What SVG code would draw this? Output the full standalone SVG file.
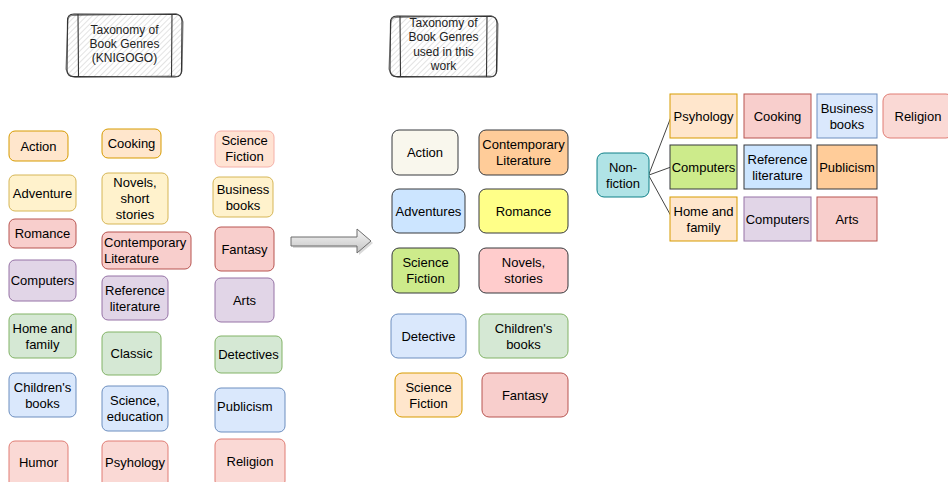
<svg xmlns="http://www.w3.org/2000/svg" width="948" height="482" viewBox="0 0 948 482">
<defs>
<pattern id="hatch" patternUnits="userSpaceOnUse" width="4" height="4" patternTransform="rotate(45)">
<line x1="0" y1="0" x2="0" y2="4" stroke="#c8c8c8" stroke-width="1"/>
</pattern>
<linearGradient id="ag" x1="0" y1="0" x2="0" y2="1">
<stop offset="0" stop-color="#f6f6f6"/>
<stop offset="1" stop-color="#c4c4c4"/>
</linearGradient>
</defs>
<style>
rect{stroke-width:1}
text{font-family:"Liberation Sans",Arial,Helvetica,sans-serif;font-size:13px;fill:#000;text-anchor:middle}
.t{font-size:12px;fill:#222}
.or{fill:#ffe6cc;stroke:#d79b00}
.ye{fill:#fff2cc;stroke:#d6b656}
.re{fill:#f8cecc;stroke:#b85450}
.pu{fill:#e1d5e7;stroke:#9673a6}
.gr{fill:#d5e8d4;stroke:#82b366}
.bl{fill:#dae8fc;stroke:#6c8ebf}
.pk{fill:#fad9d5;stroke:#e07d74}
.sf{fill:#ffe3d3;stroke:#f5b0a8}
.d{stroke:#36393d}
.sk{fill:none;stroke:#333;stroke-width:1.1}
.edge{fill:none;stroke:#444;stroke-width:1}
</style>

<g id="title-knigogo">
<rect x="67" y="14" width="115" height="63" rx="7" fill="url(#hatch)"/>
<path class="sk" d="M74,14 L175,14.5 Q182,14 182,21 L181.5,70 Q182,77 175,77 L74,76.5 Q67,77 67,70 L67.5,21 Q67,14 74,14 Z"/>
<path class="sk" d="M73,15.5 L176,13.5 Q181,15 183,22 L182,71 Q180,78 174,76 L75,77.5 Q68,76 66,69 L68,20 Q69,15 73,15.5 Z" stroke-opacity="0.6"/>
<path class="sk" d="M78,14 L78.5,77 M172,14 L171.5,77"/>
<text class="t" x="124.5" y="34">Taxonomy of</text>
<text class="t" x="124.5" y="48">Book Genres</text>
<text class="t" x="124.5" y="62">(KNIGOGO)</text>
</g>

<g id="title-used">
<rect x="390" y="16" width="107" height="61" rx="7" fill="url(#hatch)"/>
<path class="sk" d="M397,16 L490,16.5 Q497,16 497,23 L496.5,70 Q497,77 490,77 L397,76.5 Q390,77 390,70 L390.5,23 Q390,16 397,16 Z"/>
<path class="sk" d="M396,17.5 L491,15.5 Q496,17 498,24 L497,71 Q495,78 489,76 L398,77.5 Q391,76 389,69 L391,22 Q392,17 396,17.5 Z" stroke-opacity="0.6"/>
<path class="sk" d="M400,16 L400.5,77 M487,16 L486.5,77"/>
<text class="t" x="443.5" y="27">Taxonomy of</text>
<text class="t" x="443.5" y="41.3">Book Genres</text>
<text class="t" x="443.5" y="55.6">used in this</text>
<text class="t" x="443.5" y="70">work</text>
</g>

<!-- Left column 1 -->
<g id="k-action"><rect class="or" x="9" y="131" width="59" height="30" rx="6"/><text x="38.5" y="150.5">Action</text></g>
<g id="k-adventure"><rect class="ye" x="9" y="175" width="67" height="36" rx="6"/><text x="42.5" y="197.5">Adventure</text></g>
<g id="k-romance"><rect class="re" x="9" y="219" width="67" height="29" rx="6"/><text x="42.5" y="238">Romance</text></g>
<g id="k-computers"><rect class="pu" x="9" y="260" width="67" height="41" rx="6"/><text x="42.5" y="285">Computers</text></g>
<g id="k-home"><rect class="gr" x="9" y="314" width="67" height="44" rx="6"/><text x="42.5" y="332.5">Home and</text><text x="42.5" y="348.5">family</text></g>
<g id="k-children"><rect class="bl" x="9" y="373" width="67" height="44" rx="6"/><text x="42.5" y="391.5">Children's</text><text x="42.5" y="407.5">books</text></g>
<g id="k-humor"><rect class="pk" x="9" y="441" width="59" height="48" rx="6"/><text x="38.5" y="466.5">Humor</text></g>

<!-- Left column 2 -->
<g id="k-cooking"><rect class="or" x="102" y="129" width="59" height="29" rx="6"/><text x="131.5" y="148">Cooking</text></g>
<g id="k-novels"><rect class="ye" x="102" y="173" width="66" height="51" rx="6"/><text x="135" y="187">Novels,</text><text x="135" y="203">short</text><text x="135" y="219">stories</text></g>
<g id="k-contemporary"><rect class="re" x="102" y="232" width="89" height="37" rx="6"/><text x="104" y="247" style="text-anchor:start">Contemporary</text><text x="104" y="263" style="text-anchor:start">Literature</text></g>
<g id="k-reference"><rect class="pu" x="102" y="276" width="66" height="44" rx="6"/><text x="135" y="294.5">Reference</text><text x="135" y="310.5">literature</text></g>
<g id="k-classic"><rect class="gr" x="102" y="332" width="59" height="43" rx="6"/><text x="131.5" y="358">Classic</text></g>
<g id="k-science-edu"><rect class="bl" x="102" y="386" width="66" height="45" rx="6"/><text x="135" y="405">Science,</text><text x="135" y="421">education</text></g>
<g id="k-psyhology"><rect class="pk" x="102" y="441" width="66" height="48" rx="6"/><text x="135" y="466.5">Psyhology</text></g>

<!-- Left column 3 -->
<g id="k-scifi"><rect class="sf" x="215" y="131" width="59" height="36" rx="6"/><text x="244.5" y="144.5">Science</text><text x="244.5" y="160.5">Fiction</text></g>
<g id="k-business"><rect class="ye" x="213" y="177" width="60" height="40" rx="6"/><text x="243" y="193.5">Business</text><text x="243" y="209.5">books</text></g>
<g id="k-fantasy"><rect class="re" x="215" y="227" width="59" height="44" rx="6"/><text x="244.5" y="253.5">Fantasy</text></g>
<g id="k-arts"><rect class="pu" x="215" y="278" width="59" height="44" rx="6"/><text x="244.5" y="304.5">Arts</text></g>
<g id="k-detectives"><rect class="gr" x="215" y="336" width="67" height="37" rx="6"/><text x="248.5" y="359">Detectives</text></g>
<g id="k-publicism"><rect class="bl" x="215" y="388" width="70" height="44" rx="6"/><text x="217" y="410.5" style="text-anchor:start">Publicism</text></g>
<g id="k-religion"><rect class="pk" x="215" y="439" width="70" height="48" rx="6"/><text x="250" y="465.5">Religion</text></g>

<!-- Block arrow -->
<g id="arrow">
<path d="M293,239 L359,239 L359,231 L373,243 L359,255 L359,248 L293,248 Z" fill="#000" opacity="0.15"/>
<path d="M291,237 L357,237 L357,229 L371,241 L357,253 L357,246 L291,246 Z" fill="url(#ag)" stroke="#6d6d6d" stroke-width="1"/>
</g>

<!-- Middle -->
<g id="m-action"><rect class="d" fill="#f9f7ed" x="392" y="130" width="66" height="45" rx="7"/><text x="425" y="157">Action</text></g>
<g id="m-contemporary"><rect class="d" fill="#ffcc99" x="479" y="130" width="89" height="45" rx="7"/><text x="523.5" y="149">Contemporary</text><text x="523.5" y="165">Literature</text></g>
<g id="m-adventures"><rect class="d" fill="#cce5ff" x="392" y="189" width="73" height="44" rx="7"/><text x="428.5" y="215.5">Adventures</text></g>
<g id="m-romance"><rect class="d" fill="#ffff88" x="479" y="189" width="89" height="44" rx="7"/><text x="523.5" y="215.5">Romance</text></g>
<g id="m-scifi"><rect class="d" fill="#cdeb8b" x="392" y="248" width="67" height="45" rx="7"/><text x="425.5" y="267">Science</text><text x="425.5" y="283">Fiction</text></g>
<g id="m-novels"><rect class="d" fill="#ffcccc" x="479" y="248" width="89" height="45" rx="7"/><text x="523.5" y="267">Novels,</text><text x="523.5" y="283">stories</text></g>
<g id="m-detective"><rect class="bl" x="391" y="314" width="75" height="44" rx="7"/><text x="428.5" y="340.5">Detective</text></g>
<g id="m-children"><rect class="gr" x="479" y="314" width="89" height="44" rx="7"/><text x="523.5" y="332.5">Children's</text><text x="523.5" y="348.5">books</text></g>
<g id="m-scifi2"><rect class="or" x="395" y="373" width="67" height="44" rx="7"/><text x="428.5" y="391.5">Science</text><text x="428.5" y="407.5">Fiction</text></g>
<g id="m-fantasy"><rect class="re" x="482" y="373" width="86" height="44" rx="7"/><text x="525" y="399.5">Fantasy</text></g>

<!-- Connectors -->
<g id="connectors">
<path class="edge" d="M649,174 L671,117"/>
<path class="edge" d="M649,175 L671,167"/>
<path class="edge" d="M649,176 L671,216"/>
</g>

<!-- Right: non-fiction -->
<g id="r-nonfiction"><rect fill="#b0e3e6" stroke="#0e8088" x="597" y="153" width="52" height="44" rx="7"/><text x="623" y="171.5">Non-</text><text x="623" y="187.5">fiction</text></g>
<g id="r-psyhology"><rect class="or" x="670" y="94" width="67" height="44"/><text x="703.5" y="120.5">Psyhology</text></g>
<g id="r-cooking"><rect class="re" x="744" y="94" width="67" height="44"/><text x="777.5" y="120.5">Cooking</text></g>
<g id="r-business"><rect class="bl" x="817" y="94" width="60" height="44"/><text x="847" y="112.5">Business</text><text x="847" y="128.5">books</text></g>
<g id="r-religion"><rect class="pk" x="883" y="94" width="70" height="44" rx="7"/><text x="918" y="120.5">Religion</text></g>
<g id="r-computers"><rect class="d" fill="#cdeb8b" x="670" y="145" width="67" height="44"/><text x="703.5" y="171.5">Computers</text></g>
<g id="r-reference"><rect class="d" fill="#cce5ff" x="744" y="145" width="67" height="44"/><text x="777.5" y="163.5">Reference</text><text x="777.5" y="179.5">literature</text></g>
<g id="r-publicism"><rect class="d" fill="#ffcc99" x="817" y="145" width="60" height="44"/><text x="847" y="171.5">Publicism</text></g>
<g id="r-home"><rect class="or" x="670" y="197" width="67" height="44"/><text x="703.5" y="215.5">Home and</text><text x="703.5" y="231.5">family</text></g>
<g id="r-computers2"><rect class="pu" x="744" y="197" width="67" height="44"/><text x="777.5" y="223.5">Computers</text></g>
<g id="r-arts"><rect class="re" x="817" y="197" width="60" height="44"/><text x="847" y="223.5">Arts</text></g>
</svg>
